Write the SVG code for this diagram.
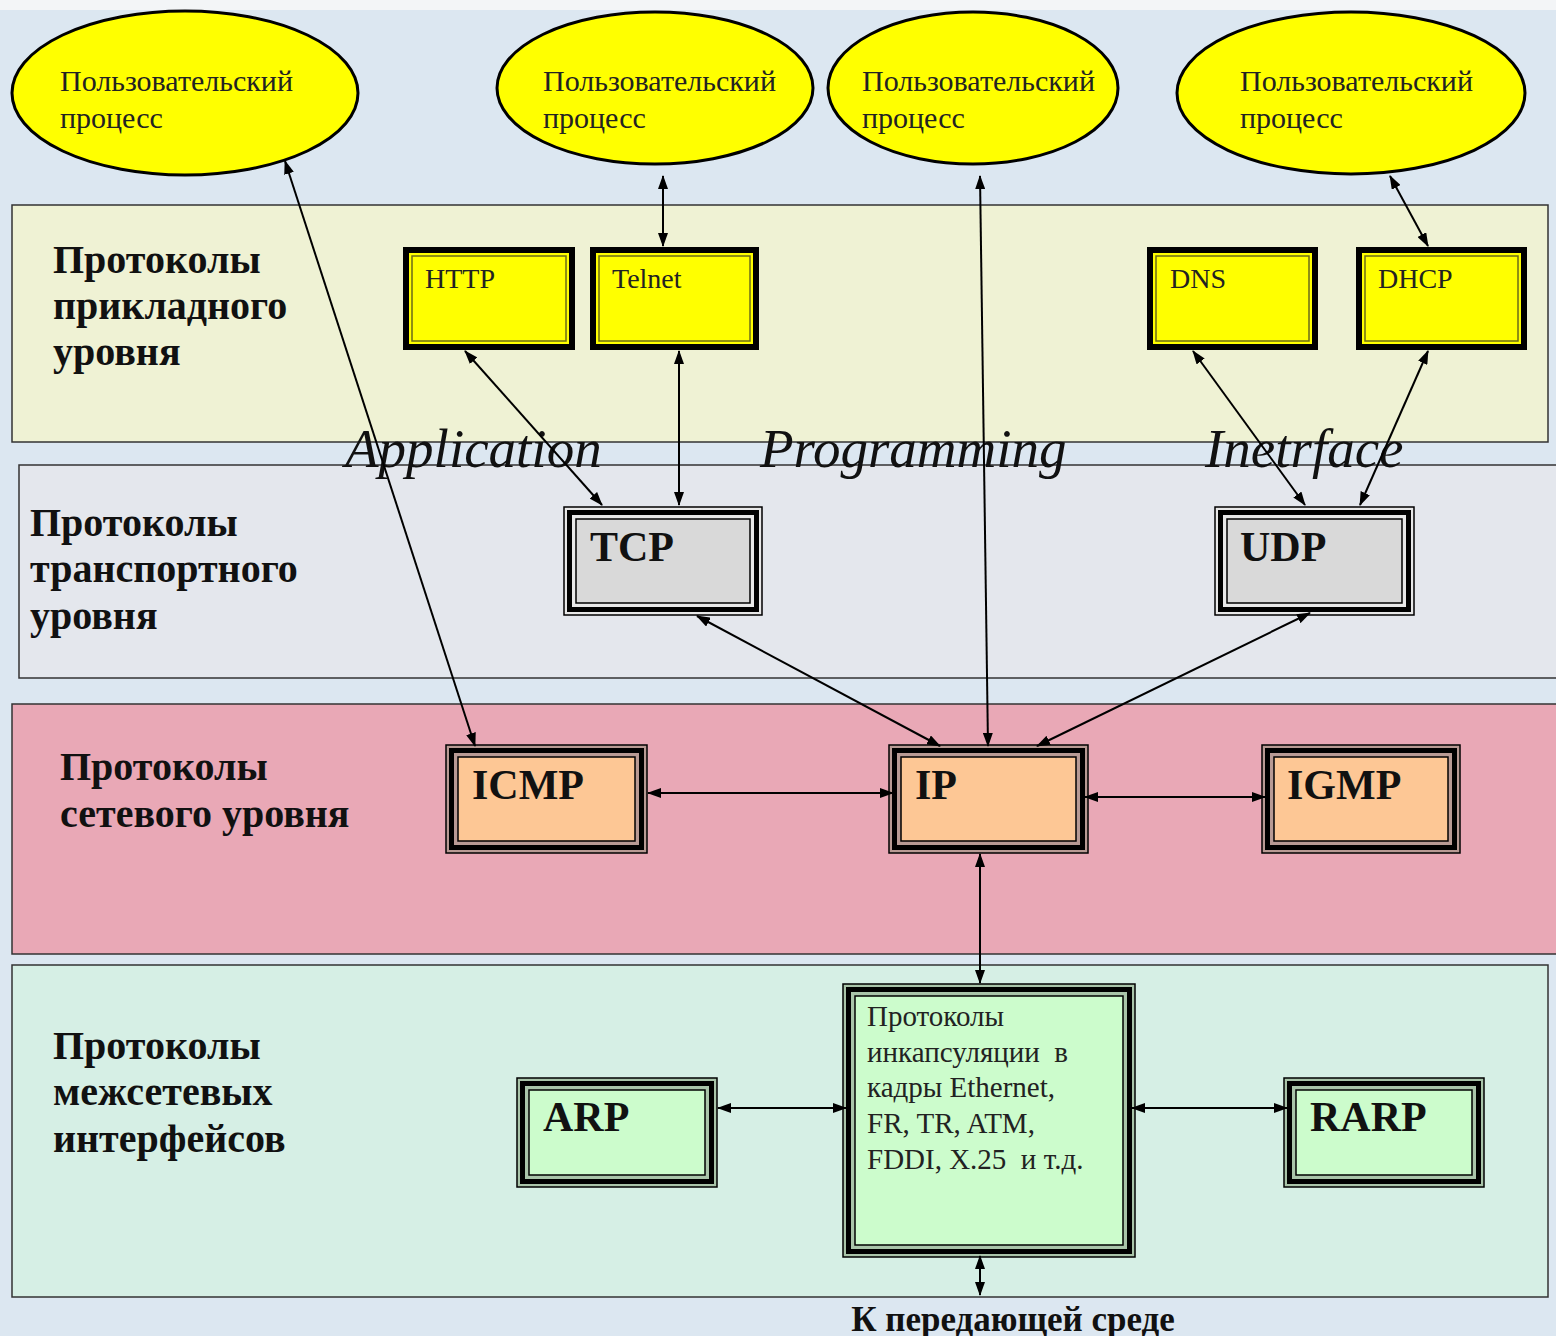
<svg xmlns="http://www.w3.org/2000/svg" width="1556" height="1336" viewBox="0 0 1556 1336">
<defs>
<marker id="ah" viewBox="0 0 14 10" refX="13" refY="5" markerWidth="14" markerHeight="10" markerUnits="userSpaceOnUse" orient="auto-start-reverse">
<path d="M0,0 L14,5 L0,10 Z" fill="#000"/>
</marker>
<style>
.bg{fill:#dce7f1}
.band{stroke:#333;stroke-width:1.5}
.ell{fill:#ffff00;stroke:#000;stroke-width:3}
.etxt{font-family:"Liberation Serif",serif;font-size:30px;fill:#222}
.lbl{font-family:"Liberation Serif",serif;font-size:40px;font-weight:bold;fill:#111}
.app-out{fill:#ffff00;stroke:#000;stroke-width:6}
.app-in{fill:#ffff00;stroke:#6b6b1a;stroke-width:1.5}
.atxt{font-family:"Liberation Serif",serif;font-size:28px;fill:#222}
.btxt{font-family:"Liberation Serif",serif;font-size:42px;font-weight:bold;fill:#111}
.o{stroke:#000;stroke-width:1.5}
.t{fill:none;stroke:#000;stroke-width:5}
.i{stroke:#000;stroke-width:1.5}
.ital{font-family:"Liberation Serif",serif;font-size:55px;font-style:italic;fill:#111}
.conn{stroke:#000;stroke-width:2;fill:none;marker-start:url(#ah);marker-end:url(#ah)}
.ltxt{font-family:"Liberation Serif",serif;font-size:29px;fill:#222}
</style>
</defs>
<rect class="bg" x="0" y="0" width="1556" height="1336"/>
<rect x="0" y="0" width="1556" height="10" fill="#f3f5f7"/>

<g id="bands">
<rect class="band" x="12" y="205" width="1536" height="237" fill="#eff2d4"/>
<rect class="band" x="19" y="465" width="1545" height="213" fill="#e4e7ed"/>
<rect class="band" x="12" y="704" width="1552" height="250" fill="#e9a8b6"/>
<rect class="band" x="12" y="965" width="1536" height="332" fill="#d6efe5"/>
</g>

<g id="band-labels">
<text class="lbl" x="53" y="273">Протоколы</text>
<text class="lbl" x="53" y="319">прикладного</text>
<text class="lbl" x="53" y="365">уровня</text>
<text class="lbl" x="30" y="536">Протоколы</text>
<text class="lbl" x="30" y="582">транспортного</text>
<text class="lbl" x="30" y="629">уровня</text>
<text class="lbl" x="60" y="780">Протоколы</text>
<text class="lbl" x="60" y="827">сетевого уровня</text>
<text class="lbl" x="53" y="1059">Протоколы</text>
<text class="lbl" x="53" y="1105">межсетевых</text>
<text class="lbl" x="53" y="1152">интерфейсов</text>
</g>

<g id="api-label">
<text class="ital" x="345" y="467">Application</text>
<text class="ital" x="760" y="467">Programming</text>
<text class="ital" x="1205" y="467">Inetrface</text>
</g>

<g id="proc1"><ellipse class="ell" cx="185" cy="93" rx="173" ry="82"/>
<text class="etxt" x="60" y="91">Пользовательский</text><text class="etxt" x="60" y="128">процесс</text></g>
<g id="proc2"><ellipse class="ell" cx="655" cy="88" rx="158" ry="76"/>
<text class="etxt" x="543" y="91">Пользовательский</text><text class="etxt" x="543" y="128">процесс</text></g>
<g id="proc3"><ellipse class="ell" cx="973" cy="88" rx="145" ry="76"/>
<text class="etxt" x="862" y="91">Пользовательский</text><text class="etxt" x="862" y="128">процесс</text></g>
<g id="proc4"><ellipse class="ell" cx="1351" cy="93" rx="174" ry="81"/>
<text class="etxt" x="1240" y="91">Пользовательский</text><text class="etxt" x="1240" y="128">процесс</text></g>

<g id="http"><rect class="app-out" x="406" y="250" width="166" height="97"/><rect class="app-in" x="412" y="256" width="154" height="85"/><text class="atxt" x="425" y="288">HTTP</text></g>
<g id="telnet"><rect class="app-out" x="593" y="250" width="163" height="97"/><rect class="app-in" x="599" y="256" width="151" height="85"/><text class="atxt" x="612" y="288">Telnet</text></g>
<g id="dns"><rect class="app-out" x="1150" y="250" width="165" height="97"/><rect class="app-in" x="1156" y="256" width="153" height="85"/><text class="atxt" x="1170" y="288">DNS</text></g>
<g id="dhcp"><rect class="app-out" x="1359" y="250" width="165" height="97"/><rect class="app-in" x="1365" y="256" width="153" height="85"/><text class="atxt" x="1378" y="288">DHCP</text></g>

<g id="tcp"><rect class="o" x="564" y="507" width="198" height="108" fill="#e8e8e8"/><rect class="t" x="569.5" y="512.5" width="187" height="97"/><rect class="i" x="576" y="519" width="174" height="84" fill="#d9d9d9"/><text class="btxt" x="590" y="561">TCP</text></g>
<g id="udp"><rect class="o" x="1215" y="507" width="199" height="108" fill="#e8e8e8"/><rect class="t" x="1220.5" y="512.5" width="188" height="97"/><rect class="i" x="1227" y="519" width="175" height="84" fill="#d9d9d9"/><text class="btxt" x="1240" y="561">UDP</text></g>

<g id="icmp"><rect class="o" x="446" y="745" width="201" height="108" fill="#b89a94"/><rect class="t" x="451.5" y="750.5" width="190" height="97"/><rect class="i" x="458" y="757" width="177" height="84" fill="#fdc795"/><text class="btxt" x="472" y="799">ICMP</text></g>
<g id="ip"><rect class="o" x="889" y="745" width="199" height="108" fill="#b89a94"/><rect class="t" x="894.5" y="750.5" width="188" height="97"/><rect class="i" x="901" y="757" width="175" height="84" fill="#fdc795"/><text class="btxt" x="915" y="799">IP</text></g>
<g id="igmp"><rect class="o" x="1262" y="745" width="198" height="108" fill="#b89a94"/><rect class="t" x="1267.5" y="750.5" width="187" height="97"/><rect class="i" x="1274" y="757" width="174" height="84" fill="#fdc795"/><text class="btxt" x="1287" y="799">IGMP</text></g>

<g id="arp"><rect class="o" x="517" y="1078" width="200" height="109" fill="#a9c4a9"/><rect class="t" x="522.5" y="1083.5" width="189" height="98"/><rect class="i" x="529" y="1090" width="176" height="85" fill="#ccfccc"/><text class="btxt" x="543" y="1131">ARP</text></g>
<g id="rarp"><rect class="o" x="1284" y="1078" width="200" height="109" fill="#a9c4a9"/><rect class="t" x="1289.5" y="1083.5" width="189" height="98"/><rect class="i" x="1296" y="1090" width="176" height="85" fill="#ccfccc"/><text class="btxt" x="1310" y="1131">RARP</text></g>
<g id="encap"><rect class="o" x="843" y="984" width="292" height="273" fill="#a9c4a9"/><rect class="t" x="848.5" y="989.5" width="281" height="262"/><rect class="i" x="855" y="996" width="268" height="249" fill="#ccfccc"/>
<text class="ltxt" x="867" y="1026">Протоколы</text>
<text class="ltxt" x="867" y="1062" xml:space="preserve">инкапсуляции  в</text>
<text class="ltxt" x="867" y="1097">кадры Ethernet,</text>
<text class="ltxt" x="867" y="1133">FR, TR, ATM,</text>
<text class="ltxt" x="867" y="1169" xml:space="preserve">FDDI, X.25  и т.д.</text></g>

<g id="medium"><text x="1013" y="1331" text-anchor="middle" font-family="Liberation Serif, serif" font-size="35" font-weight="bold" fill="#111">К передающей среде</text></g>

<g id="connectors">
<line class="conn" x1="285" y1="161" x2="475" y2="746"/>
<line class="conn" x1="663" y1="176" x2="663" y2="246"/>
<line class="conn" x1="465" y1="351" x2="602" y2="505"/>
<line class="conn" x1="679" y1="351" x2="679" y2="505"/>
<line class="conn" x1="980" y1="176" x2="988" y2="746"/>
<line class="conn" x1="1390" y1="176" x2="1428" y2="246"/>
<line class="conn" x1="1193" y1="351" x2="1305" y2="505"/>
<line class="conn" x1="1428" y1="351" x2="1360" y2="505"/>
<line class="conn" x1="697" y1="616" x2="940" y2="746"/>
<line class="conn" x1="1310" y1="613" x2="1037" y2="746"/>
<line class="conn" x1="648" y1="793" x2="893" y2="793"/>
<line class="conn" x1="1085" y1="797" x2="1265" y2="797"/>
<line class="conn" x1="980" y1="854" x2="980" y2="983"/>
<line class="conn" x1="718" y1="1108" x2="846" y2="1108"/>
<line class="conn" x1="1132" y1="1108" x2="1287" y2="1108"/>
<line class="conn" x1="980" y1="1256" x2="980" y2="1295"/>
</g>
</svg>
